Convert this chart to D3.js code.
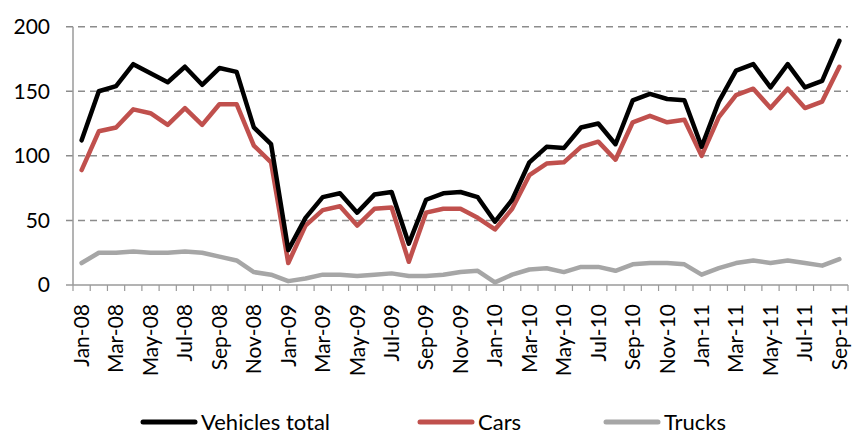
<!DOCTYPE html>
<html>
<head>
<meta charset="utf-8">
<script src="https://cdn.jsdelivr.net/npm/d3@7"></script>
<style>
  body { margin: 0; background: #fff; }
  svg text { font-family: Lato, "Open Sans", sans-serif; fill: #000; }
</style>
</head>
<body>
<div id="chart"></div>
<script>
// months Jan-08 .. Sep-11
const months = ['Jan-08','Feb-08','Mar-08','Apr-08','May-08','Jun-08','Jul-08','Aug-08','Sep-08','Oct-08','Nov-08','Dec-08',
  'Jan-09','Feb-09','Mar-09','Apr-09','May-09','Jun-09','Jul-09','Aug-09','Sep-09','Oct-09','Nov-09','Dec-09',
  'Jan-10','Feb-10','Mar-10','Apr-10','May-10','Jun-10','Jul-10','Aug-10','Sep-10','Oct-10','Nov-10','Dec-10',
  'Jan-11','Feb-11','Mar-11','Apr-11','May-11','Jun-11','Jul-11','Aug-11','Sep-11'];

const vehicles = [112,150,154,171,164,157,169,155,168,165,122,109,
  27,52,68,71,56,70,72,32,66,71,72,68,
  49,66,95,107,106,122,125,109,143,148,144,143,
  107,142,166,171,153,171,153,158,189];

const cars = [89,119,122,136,133,124,137,124,140,140,108,95,
  17,46,58,61,46,59,60,18,56,59,59,52,
  43,59,85,94,95,107,111,97,126,131,126,128,
  100,130,147,152,137,152,137,142,169];

const trucks = [17,25,25,26,25,25,26,25,22,19,10,8,
  3,5,8,8,7,8,9,7,7,8,10,11,
  2,8,12,13,10,14,14,11,16,17,17,16,
  8,13,17,19,17,19,17,15,20];

const yTicks = [0, 50, 100, 150, 200];

const series = [
  {name: 'Vehicles total', values: vehicles, color: '#000000'},
  {name: 'Cars', values: cars, color: '#c0504d'},
  {name: 'Trucks', values: trucks, color: '#a6a6a6'}
];

const width = 866, height = 440,
      margin = {top: 26.7, right: 18, bottom: 155, left: 73};

const svg = d3.select('#chart').append('svg')
  .attr('width', width)
  .attr('height', height);

const x = d3.scaleBand()
  .domain(months)
  .range([margin.left, width - margin.right]);

const y = d3.scaleLinear()
  .domain([0, 200])
  .range([height - margin.bottom, margin.top]);

// gridlines
svg.append('g')
  .selectAll('line')
  .data(yTicks.filter(d => d > 0))
  .enter().append('line')
    .attr('x1', margin.left - 7)
    .attr('x2', width - margin.right)
    .attr('y1', d => y(d))
    .attr('y2', d => y(d))
    .style('stroke', '#8c8c8c')
    .style('stroke-width', 1.5)
    .style('stroke-dasharray', '7,5');

// y axis line and labels
svg.append('line')
  .attr('x1', margin.left).attr('x2', margin.left)
  .attr('y1', y(200)).attr('y2', y(0))
  .style('stroke', '#9a9a9a').style('stroke-width', 1.5);

svg.append('g')
  .selectAll('text')
  .data(yTicks)
  .enter().append('text')
    .attr('x', 50)
    .attr('y', d => y(d))
    .attr('dy', '0.35em')
    .attr('text-anchor', 'end')
    .style('font-size', '21px')
    .text(d => d);

// x axis line, ticks between categories
const xAxisY = y(0);
svg.append('line')
  .attr('x1', margin.left - 7).attr('x2', width - margin.right)
  .attr('y1', xAxisY).attr('y2', xAxisY)
  .style('stroke', '#9a9a9a').style('stroke-width', 1.5);

const bounds = months.map(m => x(m)).concat([x.range()[1]]);
svg.append('g')
  .selectAll('line')
  .data(bounds)
  .enter().append('line')
    .attr('x1', d => d).attr('x2', d => d)
    .attr('y1', xAxisY).attr('y2', xAxisY + 6)
    .style('stroke', '#9a9a9a').style('stroke-width', 1.2);

// month labels, every other month, rotated
svg.append('g')
  .selectAll('text')
  .data(months.filter((m, i) => i % 2 === 0))
  .enter().append('text')
    .attr('transform', d => `translate(${x(d) + x.bandwidth() / 2},${xAxisY + 19}) rotate(-90)`)
    .attr('dy', '0.35em')
    .attr('text-anchor', 'end')
    .style('font-size', '21px')
    .text(d => d);

// lines
const line = d3.line()
  .x((d, i) => x(months[i]) + x.bandwidth() / 2)
  .y(d => y(d));

svg.append('g')
  .selectAll('path')
  .data(series.slice().reverse())
  .enter().append('path')
    .attr('d', d => line(d.values))
    .style('fill', 'none')
    .style('stroke', d => d.color)
    .style('stroke-width', 4.5)
    .style('stroke-linejoin', 'round')
    .style('stroke-linecap', 'round');

// legend
const legendX = [143, 420, 606];
const legend = svg.append('g')
  .selectAll('g')
  .data(series)
  .enter().append('g')
    .attr('transform', (d, i) => `translate(${legendX[i]},422)`);

legend.append('line')
  .attr('x1', 0).attr('x2', 52)
  .style('stroke', d => d.color)
  .style('stroke-width', 5)
  .style('stroke-linecap', 'round');

legend.append('text')
  .attr('x', 58)
  .attr('dy', '0.35em')
  .style('font-size', '22px')
  .text(d => d.name);
</script>
</body>
</html>
